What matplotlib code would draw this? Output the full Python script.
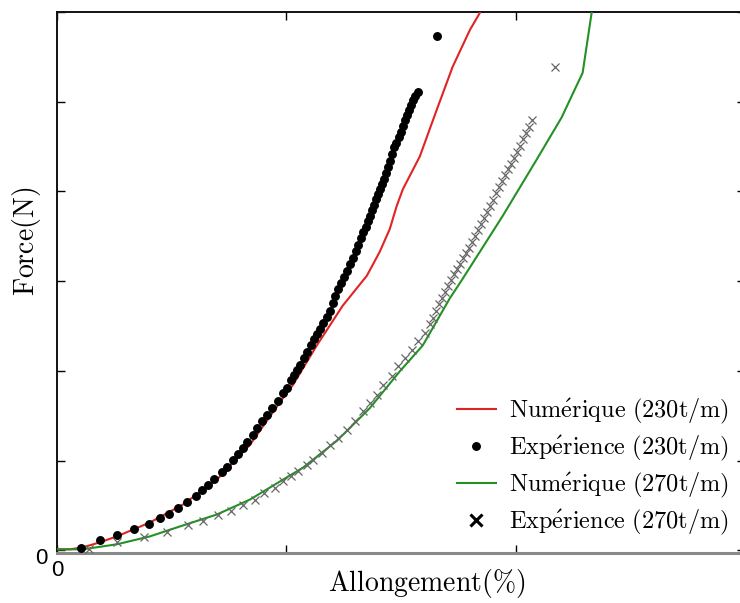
import matplotlib
matplotlib.use("Agg")
import matplotlib.pyplot as plt
from matplotlib.lines import Line2D
import matplotlib.transforms as mtransforms

plt.rcParams['mathtext.fontset'] = 'cm'

# ---------------- data ----------------
# Numerical curve, 230 t/m
num230_x = [0.000, 0.057, 0.113, 0.187, 0.261, 0.405, 0.549, 0.697, 0.841, 0.985,
            1.028, 1.133, 1.246, 1.351, 1.407, 1.451, 1.481, 1.508, 1.582, 1.656,
            1.725, 1.800, 1.843, 1.870]
num230_y = [0.011, 0.011, 0.033, 0.089, 0.155, 0.310, 0.510, 0.787, 1.175, 1.696,
            1.840, 2.284, 2.727, 3.060, 3.326, 3.581, 3.836, 4.024, 4.390, 4.911,
            5.388, 5.798, 5.987, 6.250]

# Experimental points, 230 t/m
exp230_x = [0.105, 0.187, 0.261, 0.336, 0.401, 0.449, 0.488, 0.527, 0.566, 0.606,
            0.632, 0.658, 0.684, 0.719, 0.741, 0.767, 0.789, 0.810, 0.828, 0.854,
            0.871, 0.893, 0.915, 0.937, 0.963, 0.985, 1.002,
            1.020, 1.033, 1.046, 1.059, 1.076, 1.089, 1.107, 1.120, 1.133, 1.146,
            1.159, 1.176, 1.190, 1.203, 1.211, 1.224, 1.237, 1.251, 1.264, 1.277,
            1.290, 1.303, 1.312, 1.325, 1.333, 1.346, 1.355, 1.364, 1.373, 1.381,
            1.390, 1.399, 1.407, 1.416, 1.425, 1.434, 1.442, 1.451, 1.460, 1.468,
            1.477, 1.490, 1.499, 1.508, 1.516, 1.525, 1.534, 1.542, 1.551, 1.560,
            1.573, 1.656]
exp230_y = [0.022, 0.111, 0.166, 0.233, 0.288, 0.355, 0.410, 0.477, 0.543, 0.610,
            0.676, 0.732, 0.798, 0.876, 0.931, 1.009, 1.075, 1.142, 1.208, 1.286,
            1.364, 1.441, 1.508, 1.585, 1.663, 1.752, 1.807,
            1.896, 1.951, 2.007, 2.062, 2.140, 2.206, 2.284, 2.350, 2.406, 2.472,
            2.539, 2.605, 2.672, 2.761, 2.838, 2.916, 2.982, 3.049, 3.115, 3.193,
            3.259, 3.337, 3.404, 3.481, 3.548, 3.603, 3.670, 3.725, 3.792, 3.847,
            3.914, 3.969, 4.024, 4.080, 4.135, 4.202, 4.268, 4.335, 4.412, 4.490,
            4.545, 4.612, 4.667, 4.734, 4.800, 4.856, 4.911, 4.967, 5.022, 5.067,
            5.111, 5.732]

# Numerical curve, 270 t/m
num270_x = [0.000, 0.113, 0.261, 0.405, 0.549, 0.697, 0.841, 0.985, 1.072, 1.220,
            1.364, 1.495, 1.595, 1.712, 1.769, 1.943, 2.092, 2.200, 2.292, 2.331,
            2.345]
num270_y = [0.011, 0.011, 0.067, 0.155, 0.277, 0.399, 0.565, 0.787, 0.920, 1.220,
            1.585, 1.996, 2.284, 2.805, 3.027, 3.725, 4.357, 4.823, 5.322, 5.987,
            6.250]

# Experimental points, 270 t/m
exp270_x = [0.139, 0.261, 0.379, 0.479, 0.571, 0.636, 0.702, 0.758, 0.810, 0.863,
            0.902, 0.950, 0.985, 1.020, 1.050, 1.089, 1.115, 1.155, 1.190, 1.224,
            1.264, 1.298, 1.333, 1.364, 1.394, 1.420, 1.460, 1.486, 1.516, 1.547,
            1.573, 1.603, 1.625, 1.638, 1.651, 1.664, 1.678, 1.691, 1.704, 1.717,
            1.730, 1.743, 1.756, 1.769, 1.782, 1.795, 1.808, 1.821, 1.834, 1.847,
            1.861, 1.874, 1.887, 1.900, 1.913, 1.926, 1.939, 1.952, 1.965, 1.978,
            1.991, 2.004, 2.017, 2.031, 2.044, 2.057, 2.070, 2.170]
exp270_y = [0.011, 0.089, 0.144, 0.200, 0.277, 0.322, 0.388, 0.443, 0.510, 0.565,
            0.643, 0.698, 0.776, 0.831, 0.887, 0.953, 1.009, 1.086, 1.175, 1.253,
            1.341, 1.441, 1.552, 1.641, 1.729, 1.840, 1.940, 2.051, 2.140, 2.228,
            2.328, 2.417, 2.517, 2.594, 2.672, 2.749, 2.816, 2.882, 2.949, 3.016,
            3.082, 3.137, 3.193, 3.259, 3.315, 3.370, 3.437, 3.503, 3.570, 3.636,
            3.703, 3.769, 3.836, 3.902, 3.980, 4.047, 4.113, 4.180, 4.246, 4.302,
            4.368, 4.435, 4.512, 4.579, 4.656, 4.723, 4.800, 5.388]

x_ticks = [0, 1, 2, 3]
y_ticks = [0, 1, 2, 3, 4, 5, 6]
x_ticklabels = ['0', '', '', '']
y_ticklabels = ['0', '', '', '', '', '', '']

labels = [r'$\mathrm{Num\acute{e}rique\ (230t/m)}$',
          r'$\mathrm{Exp\acute{e}rience\ (230t/m)}$',
          r'$\mathrm{Num\acute{e}rique\ (270t/m)}$',
          r'$\mathrm{Exp\acute{e}rience\ (270t/m)}$']

RED = '#e02424'
GREEN = '#249124'

# ---------------- figure ----------------
fig = plt.figure(figsize=(7.40, 6.03), dpi=100)
ax = fig.add_axes([57 / 740, 1 - 553 / 603, (745 - 57) / 740, (553 - 12) / 603])

ax.plot(num230_x, num230_y, color=RED, lw=1.5, zorder=3)
ax.plot(exp230_x, exp230_y, linestyle='none', marker='o', ms=5.4,
        color='black', zorder=4)
ax.plot(num270_x, num270_y, color=GREEN, lw=1.5, zorder=3)
ax.plot(exp270_x, exp270_y, linestyle='none', marker='x', ms=6.0, mew=0.9,
        color='#666666', zorder=4)

ax.set_xlim(0, 3)
ax.set_ylim(-0.03, 6)
ax.set_xticks(x_ticks)
ax.set_xticklabels(x_ticklabels)
ax.set_yticks(y_ticks)
ax.set_yticklabels(y_ticklabels)

ax.tick_params(direction='in', length=6, width=1, top=True, right=True,
               labelsize=16, colors='black')
for lab in ax.get_xticklabels() + ax.get_yticklabels():
    lab.set_fontfamily('Liberation Sans')
ax.tick_params(axis='x', pad=5)
ax.tick_params(axis='y', pad=7)
# nudge y "0" down a little
off = mtransforms.ScaledTranslation(0, -6 / 100, fig.dpi_scale_trans)
for lab in ax.get_yticklabels():
    lab.set_transform(lab.get_transform() + off)

for s in ['left', 'top', 'right']:
    ax.spines[s].set_linewidth(1.4)
    ax.spines[s].set_color('#111111')
ax.spines['bottom'].set_linewidth(2.2)
ax.spines['bottom'].set_color('#8a8a8a')

ax.set_xlabel(r'$\mathrm{Allongement(\%)}$', fontsize=20)
ax.xaxis.set_label_coords((427 - 57) / (745 - 57), -0.026)
ax.set_ylabel(r'$\mathrm{Force(N)}$', fontsize=20)
ax.yaxis.set_label_coords(-0.02, (553 - 241) / 541)

handles = [Line2D([], [], color=RED, lw=1.5),
           Line2D([], [], linestyle='none', marker='o', ms=5.4, color='black'),
           Line2D([], [], color=GREEN, lw=1.5),
           Line2D([], [], linestyle='none', marker='x', ms=8, mew=2.2, color='black')]
fig.legend(handles, labels, loc='lower right', bbox_to_anchor=(729 / 740, (603 - 537) / 603),
           frameon=False, fontsize=17.5, handlelength=1.6, handletextpad=0.55,
           labelspacing=0.32, borderpad=0, borderaxespad=0)

fig.savefig('out.png', dpi=100)
